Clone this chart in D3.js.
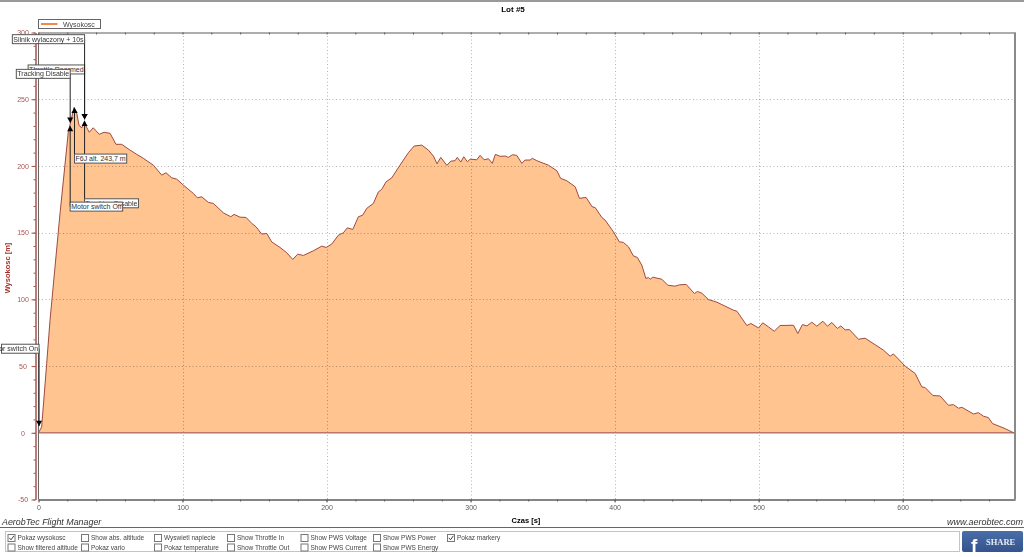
<!DOCTYPE html>
<html>
<head>
<meta charset="utf-8">
<script src="https://cdn.jsdelivr.net/npm/d3@7"></script>
<style>
  body { margin: 0; background: #fff; }
  svg { display: block; font-family: "Liberation Sans", Arial, sans-serif; }
</style>
</head>
<body>
<div class="chart"></div>
<script>
// flight log
const times = [0, 1, 2.2, 5.7, 8, 15, 20.7, 23, 24.6, 26.4, 28.1, 30, 31.8, 33.3, 35.3, 38, 42.2, 45.5, 49.7, 53.8, 57.8, 63.5, 68.2, 72.8, 79.7, 85.6, 88.5, 92.5, 96, 100.6, 107.5, 110.3, 113.3, 117.9, 121.4, 128.3, 133.5, 135.8, 139.9, 144.1, 148.1, 151, 155, 158.5, 161.9, 167.7, 172.4, 176.5, 180, 183.9, 190.8, 196.7, 199.7, 203.6, 208.2, 211.7, 214.4, 218.2, 222.1, 225.1, 227.9, 232.5, 236, 238.3, 241.3, 245.3, 251, 256.8, 260.8, 266.1, 270.7, 274.2, 276.7, 279.3, 283.5, 286.3, 289.2, 290.8, 293.2, 295.3, 297.8, 299.7, 304.3, 306.6, 309.4, 312.4, 315.1, 317.2, 320.5, 324, 326.3, 329, 332.1, 335.6, 337.8, 341.3, 342.9, 346, 354, 359.9, 362.5, 366.8, 372.6, 375.6, 380.2, 384.4, 386.5, 391.1, 393.4, 399.2, 403.3, 406.1, 409.6, 413, 415.8, 418.9, 421.7, 423.5, 424.7, 426.5, 432.8, 436.9, 442, 445, 449.7, 455.4, 457.5, 460.6, 465.1, 471, 482.5, 484.9, 491.8, 494.6, 499.9, 502.9, 506.8, 510.8, 514.9, 524.2, 527.2, 530.4, 533.5, 536.9, 540.4, 544.6, 547.8, 550.8, 554.7, 557.1, 560.1, 563, 569.3, 573.9, 586.7, 591.3, 593.6, 601.8, 608.7, 613.3, 615.6, 621, 626, 631.8, 635.3, 638.8, 641.1, 649.2, 652.6, 656.1, 659.5, 662.4, 671.2, 677]
const altitudes = [0, 2, 4.4, 52.1, 84.4, 165, 225.6, 235.9, 243.7, 240.4, 230.6, 228.4, 233.1, 229.1, 225.2, 228.6, 223.7, 225.2, 224.4, 216.2, 216.2, 211.9, 208.7, 205.7, 200.6, 193.1, 194.9, 191.1, 190.1, 185.6, 179.4, 176.1, 176.9, 172.7, 171.9, 164.9, 161.9, 163.7, 161.6, 161.4, 156.9, 154.4, 148.9, 149.4, 143.1, 138.9, 134.9, 129.9, 133.9, 132.9, 136.4, 139.9, 138.9, 141.4, 148.1, 149.9, 153.6, 152.4, 161.9, 163.1, 168.2, 171.9, 180.6, 182.4, 188.1, 191.1, 200.6, 209.9, 214.9, 215.6, 211.9, 207.4, 201.6, 206.4, 200.4, 203.6, 203.9, 206.4, 202.9, 206.9, 203.1, 205.1, 204.6, 207.9, 204.6, 205.4, 201.9, 208.7, 207.2, 207.4, 206.4, 208.4, 207.9, 201.9, 204.4, 204.4, 205.7, 203.9, 200.6, 196.4, 190.7, 188.9, 184.4, 175.7, 176.4, 169.4, 168.8, 161.4, 159.4, 150.6, 143.1, 142.7, 139.4, 132.6, 131.4, 125.6, 115.7, 116.4, 115.1, 116.6, 115.1, 110.6, 109.9, 110.9, 111.2, 104.4, 105.9, 104.6, 99.9, 97.9, 91.9, 91.1, 80.4, 81.9, 78.6, 82.4, 79.4, 76.1, 80.4, 80.6, 74.4, 81.1, 80.1, 82.9, 79.9, 83.6, 79.9, 82.7, 78.2, 80.1, 77.1, 77.4, 70.1, 70.9, 61.9, 57.4, 59.1, 49.9, 44.4, 34.4, 33.9, 27.9, 27.6, 20.6, 21.1, 18.4, 19.1, 14.1, 15.1, 12.4, 11.4, 6.9, 3.1, 0]

const xMajor = [0, 100, 200, 300, 400, 500, 600]
const xMinor = d3.range(0, 680, 20)
const yMajor = [-50, 0, 50, 100, 150, 200, 250, 300]
const yMinor = d3.range(-50, 301, 10)

// markers: label, time, altitude the arrow points at, altitude of the label box
const markerNames = ['Throttle Rearmed', 'Silnik wylaczony + 10s', 'Tracking Disable', 'Tracking Disable', 'Motor switch Off', 'F6J alt. 243,7 m', 'Motor switch On']
const markerTimes = [32, 32, 22, 32, 22, 25, 0.4]
const markerAlts = [234.9, 234.9, 232.4, 233.9, 229.9, 243.7, 5]
const markerBoxAlts = [272.3, 295, 269, 172, 169.5, 205.5, 63]

const checkboxLabels = [
  ['Pokaz wysokosc', 'Show filtered altitude'],
  ['Show abs. altitude', 'Pokaz vario'],
  ['Wyswietl napiecie', 'Pokaz temperature'],
  ['Show Throttle In', 'Show Throttle Out'],
  ['Show PWS Voltage', 'Show PWS Current'],
  ['Show PWS Power', 'Show PWS Energy'],
  ['Pokaz markery']
]
const checkedLabels = ['Pokaz wysokosc', 'Pokaz markery']

const width = 1024, height = 557
const left = 38.5, right = 1015, top_ = 32.5, bottom = 499.5

const svg = d3.select('.chart')
  .append('svg')
    .attr('width', width)
    .attr('height', height)

const xScale = d3.scaleLinear().domain([0, 678]).range([left, right])
const yScale = d3.scaleLinear().domain([-50, 300]).range([bottom, top_])
const points = times.map((t, i) => [t, altitudes[i]])

//area and grid
svg.append('path')
  .datum(points)
    .attr('fill', '#ffc48f')
    .attr('d', d3.area().x(d => xScale(d[0])).y0(yScale(0)).y1(d => yScale(d[1])))

const gridColor = '#b4b4b4'
svg.append('g').selectAll('line')
  .data(xMajor.slice(1))
  .join('line')
    .attr('x1', d => Math.round(xScale(d)) + 0.5)
    .attr('x2', d => Math.round(xScale(d)) + 0.5)
    .attr('y1', top_)
    .attr('y2', bottom)
    .attr('stroke', gridColor)
    .attr('stroke-dasharray', '1,2.5')
    .style('mix-blend-mode', 'multiply')

svg.append('g').selectAll('line')
  .data(yMajor.slice(2, -1))
  .join('line')
    .attr('x1', left)
    .attr('x2', right)
    .attr('y1', d => Math.round(yScale(d)) + 0.5)
    .attr('y2', d => Math.round(yScale(d)) + 0.5)
    .attr('stroke', gridColor)
    .attr('stroke-dasharray', '1,2.5')
    .style('mix-blend-mode', 'multiply')

svg.append('line')
    .attr('x1', left)
    .attr('x2', right)
    .attr('y1', yScale(0))
    .attr('y2', yScale(0))
    .attr('stroke', '#bd7768')
    .attr('stroke-width', 1.4)

svg.append('path')
  .datum(points)
    .attr('fill', 'none')
    .attr('stroke', '#a04a3e')
    .attr('stroke-width', 1)
    .attr('d', d3.line().x(d => xScale(d[0])).y(d => yScale(d[1])))

//axes
const axisColor = '#5c5c5c'
const styleAxis = (g, color) => {
  g.select('.domain').attr('stroke', color)
  g.selectAll('line').attr('stroke', color)
  g.selectAll('text').attr('fill', color).style('font-size', '7px').style('font-family', 'inherit')
}

svg.append('g')
    .attr('transform', `translate(0, ${bottom})`)
    .call(d3.axisBottom(xScale).tickValues(xMinor).tickSize(2).tickFormat('').tickSizeOuter(0))
    .call(styleAxis, axisColor)
svg.append('g')
    .attr('transform', `translate(0, ${bottom})`)
    .call(d3.axisBottom(xScale).tickValues(xMajor).tickSize(3).tickPadding(3).tickSizeOuter(0))
    .call(styleAxis, axisColor)
svg.append('g')
    .attr('transform', `translate(0, ${top_})`)
    .call(d3.axisTop(xScale).tickValues(xMinor).tickSize(-2).tickFormat('').tickSizeOuter(0))
    .call(styleAxis, axisColor)

const yColor = '#a5544c'
svg.append('g')
    .attr('transform', 'translate(35.5, 0)')
    .call(d3.axisLeft(yScale).tickValues(yMinor).tickSize(2).tickFormat('').tickSizeOuter(0))
    .call(styleAxis, yColor)
svg.append('g')
    .attr('transform', 'translate(35.5, 0)')
    .call(d3.axisLeft(yScale).tickValues(yMajor).tickSize(4).tickFormat(d => String(d)).tickSizeOuter(0))
    .call(styleAxis, yColor)
    .call(g => g.selectAll('text').attr('x', -12.5).attr('text-anchor', 'middle'))

svg.append('line')
    .attr('x1', left).attr('x2', left)
    .attr('y1', top_).attr('y2', bottom)
    .attr('stroke', '#666')
svg.append('line')
    .attr('x1', right).attr('x2', right)
    .attr('y1', top_).attr('y2', bottom)
    .attr('stroke', '#8a8a8a')
    .attr('stroke-width', 2)

//titles
svg.append('line')
    .attr('x1', 0).attr('x2', width)
    .attr('y1', 1).attr('y2', 1)
    .attr('stroke', '#999')
    .attr('stroke-width', 2)
svg.append('text')
    .attr('x', 513).attr('y', 11.5)
    .attr('text-anchor', 'middle')
    .style('font-size', '8px').style('font-weight', 'bold')
    .text('Lot #5')
svg.append('text')
    .attr('transform', 'translate(9.5, 268) rotate(-90)')
    .attr('text-anchor', 'middle')
    .attr('fill', '#a5302a')
    .style('font-size', '7.5px').style('font-weight', 'bold')
    .text('Wysokosc [m]')
svg.append('text')
    .attr('x', 526).attr('y', 522.5)
    .attr('text-anchor', 'middle')
    .style('font-size', '7.5px').style('font-weight', 'bold')
    .text('Czas [s]')
svg.append('text')
    .attr('x', 2).attr('y', 525)
    .attr('fill', '#333')
    .style('font-size', '8.9px').style('font-style', 'italic')
    .text('AerobTec Flight Manager')
svg.append('text')
    .attr('x', 1023).attr('y', 525)
    .attr('text-anchor', 'end')
    .attr('fill', '#333')
    .style('font-size', '9px').style('font-style', 'italic')
    .text('www.aerobtec.com')
svg.append('line')
    .attr('x1', 0).attr('x2', width)
    .attr('y1', 527.5).attr('y2', 527.5)
    .attr('stroke', '#666')

//legend
svg.append('rect')
    .attr('x', 38.5).attr('y', 19.5)
    .attr('width', 62).attr('height', 9)
    .attr('fill', '#fff').attr('stroke', '#666')
svg.append('line')
    .attr('x1', 41).attr('x2', 57.5)
    .attr('y1', 24).attr('y2', 24)
    .attr('stroke', '#ee8a4c').attr('stroke-width', 2)
svg.append('text')
    .attr('x', 63).attr('y', 26.5)
    .attr('fill', '#444')
    .style('font-size', '7px')
    .text('Wysokosc')

//markers
const triangle = d3.symbol().type(d3.symbolTriangle).size(16)
markerNames.forEach((name, i) => {
  const x = xScale(markerTimes[i])
  const tip = yScale(markerAlts[i])
  const boxY = yScale(markerBoxAlts[i])
  const above = markerBoxAlts[i] > markerAlts[i]
  const g = svg.append('g')

  g.append('line')
      .attr('x1', x).attr('x2', x)
      .attr('y1', boxY).attr('y2', tip)
      .attr('stroke', '#222')
  g.append('path')
      .attr('d', triangle())
      .attr('transform', `translate(${x}, ${above ? tip - 3.5 : tip + 3.5}) rotate(${above ? 180 : 0})`)

  const box = g.append('rect')
      .attr('fill', '#fff')
      .attr('stroke', '#555')
  const label = g.append('text')
      .attr('y', boxY + 2.5)
      .attr('fill', '#333')
      .style('font-size', '7px')
      .text(name)
  const w = label.node().getComputedTextLength() + 2
  const boxX = above ? x - w : x
  label.attr('x', boxX + 1)
  box.attr('x', Math.max(boxX, 1.5))
      .attr('y', boxY - 4.5)
      .attr('width', boxX + w - Math.max(boxX, 1.5))
      .attr('height', 9)
})

//checkbox panel
svg.append('rect')
    .attr('x', 5.5).attr('y', 531.5)
    .attr('width', 954).attr('height', 20)
    .attr('fill', '#fff')
    .attr('stroke', '#c4c4c4')

const columnX = [7.5, 81, 154, 227, 300.5, 373, 447]
const rowY = [534, 543.5]
checkboxLabels.forEach((column, c) => {
  column.forEach((name, r) => {
    const g = svg.append('g')
        .attr('transform', `translate(${columnX[c]}, ${rowY[r]})`)
    g.append('rect')
        .attr('x', 0.5).attr('y', 0.5)
        .attr('width', 7).attr('height', 7)
        .attr('fill', '#fff')
        .attr('stroke', '#777')
    if (checkedLabels.includes(name)) {
      g.append('path')
          .attr('d', 'M1.8 3.8 L3.5 5.8 L6.4 1.8')
          .attr('fill', 'none')
          .attr('stroke', '#444')
    }
    g.append('text')
        .attr('x', 10).attr('y', 6.3)
        .attr('fill', '#444')
        .style('font-size', '6.5px')
        .text(name)
  })
})

//share button
const gradient = svg.append('defs').append('linearGradient')
    .attr('id', 'share-bg')
    .attr('x1', 0).attr('x2', 0).attr('y1', 0).attr('y2', 1)
gradient.append('stop').attr('offset', 0).attr('stop-color', '#4a6ea9')
gradient.append('stop').attr('offset', 1).attr('stop-color', '#35538c')
svg.append('rect')
    .attr('x', 962).attr('y', 531)
    .attr('width', 61).attr('height', 21)
    .attr('rx', 2)
    .attr('fill', 'url(#share-bg)')
svg.append('text')
    .attr('x', 971).attr('y', 551.5)
    .attr('fill', '#fff')
    .style('font-size', '19px').style('font-weight', 'bold')
    .text('f')
svg.append('text')
    .attr('x', 986).attr('y', 544.5)
    .attr('fill', '#e8edf5')
    .style('font-family', '"Liberation Serif", serif')
    .style('font-size', '8.5px').style('font-weight', 'bold')
    .text('SHARE')
</script>
</body>
</html>
